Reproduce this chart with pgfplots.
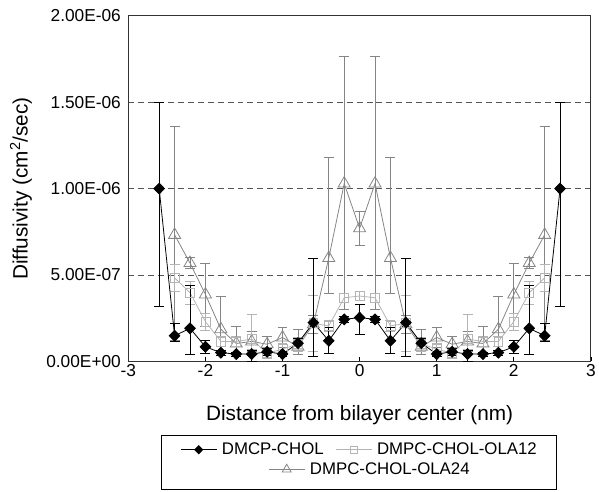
\documentclass[border=0pt]{standalone}
\usepackage{fontspec}
\setmainfont{Liberation Sans}
\usepackage{pgfplots}
\usepackage{pgfplotstable}
\pgfplotsset{compat=1.18}

\definecolor{sqgray}{HTML}{B4B4B4}
\definecolor{trgray}{HTML}{858585}
\definecolor{gridgray}{HTML}{555555}

% DMCP-CHOL
\pgfplotstableread{
x    y        ep       em
-2.6 1.00e-6  5.0e-7   6.8e-7
-2.4 1.48e-7  7.0e-8   3.3e-8
-2.2 1.91e-7  2.48e-7  1.49e-7
-2.0 8.4e-8   3.5e-8   3.6e-8
-1.8 5.0e-8   1.5e-8   1.5e-8
-1.6 4.2e-8   1.2e-8   1.2e-8
-1.4 4.2e-8   2.0e-8   4.0e-8
-1.2 5.5e-8   2.0e-8   2.0e-8
-1.0 4.2e-8   1.5e-8   1.5e-8
-0.8 1.05e-7  3.0e-8   3.0e-8
-0.6 2.24e-7  3.74e-7  1.95e-7
-0.4 1.19e-7  7.6e-8   7.3e-8
-0.2 2.43e-7  1.5e-8   1.5e-8
0.0  2.53e-7  7.6e-8   9.6e-8
0.2  2.43e-7  1.5e-8   1.5e-8
0.4  1.19e-7  7.6e-8   7.3e-8
0.6  2.24e-7  3.74e-7  1.95e-7
0.8  1.05e-7  3.0e-8   3.0e-8
1.0  4.2e-8   1.5e-8   1.5e-8
1.2  5.5e-8   2.0e-8   2.0e-8
1.4  4.2e-8   2.0e-8   4.0e-8
1.6  4.2e-8   1.2e-8   1.2e-8
1.8  5.0e-8   1.5e-8   1.5e-8
2.0  8.4e-8   3.5e-8   3.6e-8
2.2  1.91e-7  2.48e-7  1.49e-7
2.4  1.48e-7  7.0e-8   3.3e-8
2.6  1.00e-6  5.0e-7   6.8e-7
}\dmcp

% DMPC-CHOL-OLA12
\pgfplotstableread{
x    y        ep       em
-2.4 4.83e-7  8e-8     8e-8
-2.2 3.97e-7  6.7e-8   6.7e-8
-2.0 2.30e-7  5e-8     5e-8
-1.8 1.15e-7  3e-8     3e-8
-1.6 1.15e-7  3e-8     3e-8
-1.4 1.28e-7  1.44e-7  6e-8
-1.2 4.6e-8   3e-8     3e-8
-1.0 7.1e-8   3e-8     3e-8
-0.8 1.0e-7   4e-8     4e-8
-0.6 2.2e-7   1.6e-7   1.6e-7
-0.4 2.05e-7  3e-8     3e-8
-0.2 3.68e-7  2.5e-8   2.5e-8
0.0  3.78e-7  2.5e-8   2.5e-8
0.2  3.68e-7  2.5e-8   2.5e-8
0.4  2.05e-7  3e-8     3e-8
0.6  2.2e-7   1.6e-7   1.6e-7
0.8  1.0e-7   4e-8     4e-8
1.0  7.1e-8   3e-8     3e-8
1.2  4.6e-8   3e-8     3e-8
1.4  1.28e-7  1.44e-7  6e-8
1.6  1.15e-7  3e-8     3e-8
1.8  1.15e-7  3e-8     3e-8
2.0  2.30e-7  5e-8     5e-8
2.2  3.97e-7  6.7e-8   6.7e-8
2.4  4.83e-7  8e-8     8e-8
}\olatwelve

% DMPC-CHOL-OLA24
\pgfplotstableread{
x    y        ep       em
-2.4 7.32e-7  6.3e-7   6.1e-7
-2.2 5.69e-7  3e-8     3e-8
-2.0 3.87e-7  1.82e-7  1.82e-7
-1.8 1.86e-7  1.92e-7  1.4e-7
-1.6 1.03e-7  1.0e-7   6e-8
-1.4 1.15e-7  6e-8     6e-8
-1.2 9.9e-8   4.8e-8   4.8e-8
-1.0 1.38e-7  5.7e-8   5.7e-8
-0.8 8.5e-8   1.0e-7   4.3e-8
-0.6 2.14e-7  5e-8     5e-8
-0.4 5.98e-7  5.84e-7  2.07e-7
-0.2 1.029e-6 7.37e-7  7.3e-7
0.0  7.70e-7  9.6e-8   9.6e-8
0.2  1.029e-6 7.37e-7  7.3e-7
0.4  5.98e-7  5.84e-7  2.07e-7
0.6  2.14e-7  5e-8     5e-8
0.8  8.5e-8   1.0e-7   4.3e-8
1.0  1.38e-7  5.7e-8   5.7e-8
1.2  9.9e-8   4.8e-8   4.8e-8
1.4  1.15e-7  6e-8     6e-8
1.6  1.03e-7  1.0e-7   6e-8
1.8  1.86e-7  1.92e-7  1.4e-7
2.0  3.87e-7  1.82e-7  1.82e-7
2.2  5.69e-7  3e-8     3e-8
2.4  7.32e-7  6.3e-7   6.1e-7
}\olatwentyfour

\pgfplotsset{
  dstyle/.style={black, line width=0.8bp, mark=diamond*, mark size=5.5bp,
    mark options={xscale=1.3, fill=black}},
  sstyle/.style={sqgray, line width=0.8bp, mark=square, mark size=4.5bp},
  tstyle/.style={trgray, line width=0.8bp, mark=triangle, mark size=7bp},
  legimg/.style={legend image code/.code={
    \draw[mark repeat=2,mark phase=2,##1,every mark/.append style={scale=0.75}]
      plot coordinates {(0bp,0bp) (18bp,0bp) (36bp,0bp)};}},
}

\begin{document}
\begin{tikzpicture}
\begin{axis}[
  scale only axis, width=466bp, height=348bp,
  xmin=-3, xmax=3, ymin=0, ymax=2e-6,
  xtick={-3,-2,-1,0,1,2,3}, xticklabels={-3,-2,-1,0,1,2,3},
  ytick={0,5e-7,1e-6,1.5e-6,2e-6},
  yticklabels={0.00E+00,5.00E-07,1.00E-06,1.50E-06,2.00E-06},
  scaled y ticks=false,
  tick align=inside, xtick pos=bottom, ytick pos=left,
  major tick length=4bp,
  ytick style={draw=none},
  xtick style={black, line width=0.8bp},
  ymajorgrids,
  grid style={gridgray, line width=0.9bp, dash pattern=on 6bp off 4bp},
  axis line style={black!80, line width=1bp},
  xticklabel style={font=\fontsize{17.5}{20}\selectfont},
  yticklabel style={font=\fontsize{17.5}{20}\selectfont, xshift=-4bp},
  xlabel={Distance from bilayer center (nm)},
  ylabel={Diffusivity (cm\textsuperscript{2}/sec)},
  label style={font=\fontsize{21}{25}\selectfont},
  xlabel style={at={(axis description cs:0.5,-0.170)}, anchor=base},
  ylabel style={at={(axis description cs:-0.232,0.5)}, anchor=center},
  clip=false,
  legimg,
  legend columns=2,
  legend style={draw=none, fill=none, at={(axis description cs:0.5,-0.256)},
    anchor=center, font=\fontsize{17}{20}\selectfont,
    /tikz/every odd column/.append style={column sep=3bp},
    /tikz/every even column/.append style={column sep=10bp}},
]
\addlegendimage{dstyle}
\addlegendentry{DMCP-CHOL}
\addlegendimage{sstyle}
\addlegendentry{DMPC-CHOL-OLA12}

\addplot[tstyle, forget plot, error bars/.cd, y dir=both, y explicit,
  error bar style={trgray, line width=0.8bp},
  error mark options={rotate=90, mark size=5bp, trgray, line width=0.8bp}]
  table[x=x, y=y, y error plus=ep, y error minus=em] {\olatwentyfour};
\addplot[sstyle, forget plot, error bars/.cd, y dir=both, y explicit,
  error bar style={sqgray, line width=0.8bp},
  error mark options={rotate=90, mark size=5bp, sqgray, line width=0.8bp}]
  table[x=x, y=y, y error plus=ep, y error minus=em] {\olatwelve};
\addplot[dstyle, forget plot, error bars/.cd, y dir=both, y explicit,
  error bar style={black, line width=0.8bp},
  error mark options={rotate=90, mark size=5bp, black, line width=0.8bp}]
  table[x=x, y=y, y error plus=ep, y error minus=em] {\dmcp};
\end{axis}

\begin{axis}[
  scale only axis, width=466bp, height=348bp, hide axis,
  xmin=0, xmax=1, ymin=0, ymax=1,
  legimg,
  legend style={draw=none, fill=none, at={(axis description cs:0.296,-0.313)},
    anchor=west, font=\fontsize{17}{20}\selectfont,
    /tikz/every odd column/.append style={column sep=3bp}},
]
\addlegendimage{tstyle}
\addlegendentry{DMPC-CHOL-OLA24}
\end{axis}

\draw[black, line width=0.8bp] (33.7bp,-75bp) rectangle (431.7bp,-129bp);
\path (-129.3bp,-131bp) rectangle (469.7bp,364bp);
\end{tikzpicture}
\end{document}
